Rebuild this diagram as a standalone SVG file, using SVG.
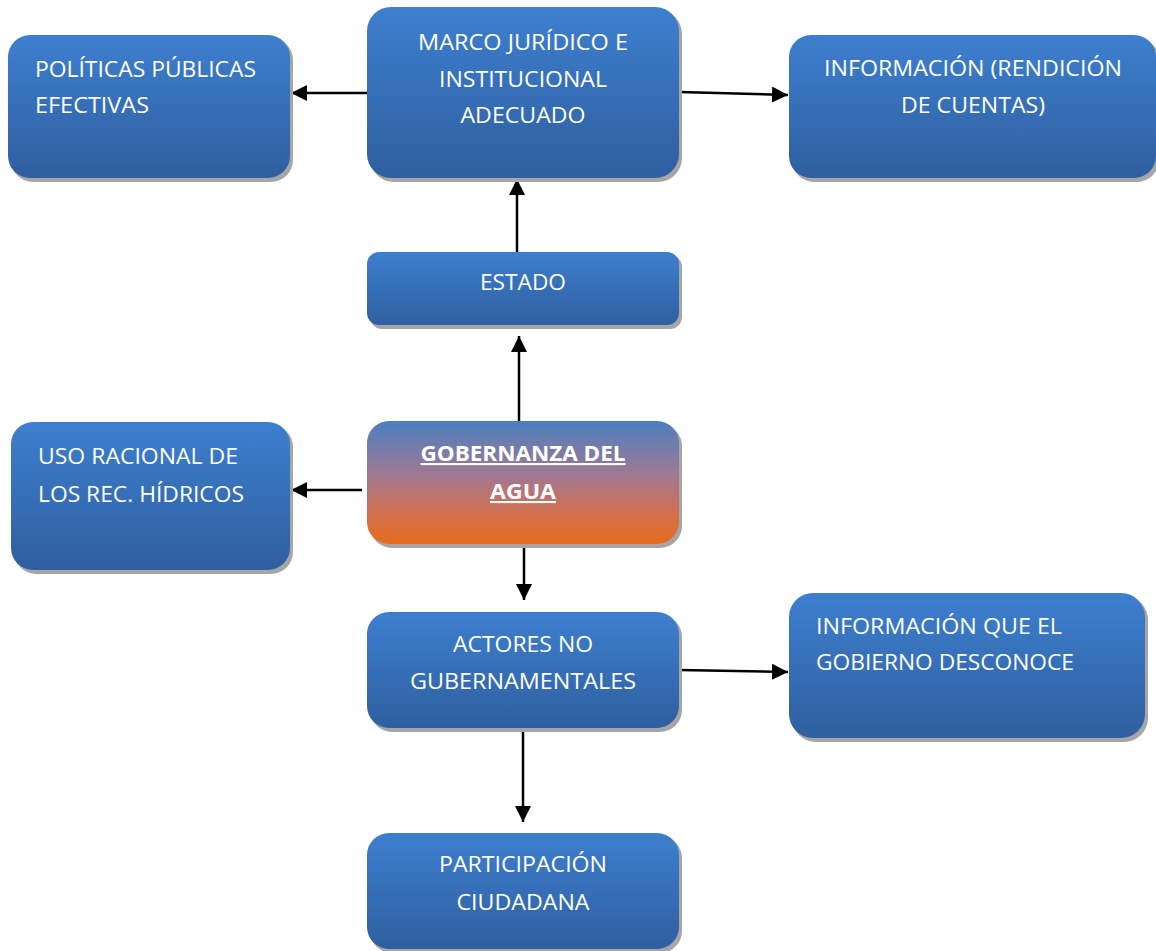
<svg xmlns="http://www.w3.org/2000/svg" width="1156" height="951" viewBox="0 0 1156 951">
<defs>
<linearGradient id="blue" x1="0" y1="0" x2="0" y2="1">
<stop offset="0" stop-color="#3d7fcf"/>
<stop offset="1" stop-color="#2f5f9f"/>
</linearGradient>
<linearGradient id="gob" x1="0" y1="0" x2="0" y2="1">
<stop offset="0" stop-color="#4a80c0"/>
<stop offset="0.45" stop-color="#a27890"/>
<stop offset="0.75" stop-color="#d2704f"/>
<stop offset="1" stop-color="#e56c1c"/>
</linearGradient>
<marker id="ah" viewBox="0 0 10 10" refX="10" refY="5" markerWidth="16" markerHeight="16" markerUnits="userSpaceOnUse" orient="auto">
<path d="M0,0 L10,5 L0,10 z" fill="#000"/>
</marker>
</defs>
<style>
.sh{fill:#a6a6a6}
.bx{fill:url(#blue)}
.t{font-family:"Open Sans","Noto Sans",sans-serif;font-size:21px;fill:#fff}
.c{text-anchor:middle}
.b{font-weight:bold;text-decoration:underline}
.ln{stroke:#000;stroke-width:2.5;fill:none;marker-end:url(#ah)}
</style>
<rect width="1156" height="951" fill="#fff"/>
<g id="connectors">
<line class="ln" x1="367" y1="93" x2="291" y2="93"/>
<line class="ln" x1="679" y1="92" x2="788" y2="95"/>
<line class="ln" x1="517" y1="252" x2="517" y2="179"/>
<line class="ln" x1="519" y1="421" x2="519" y2="336"/>
<line class="ln" x1="362" y1="490" x2="291" y2="490"/>
<line class="ln" x1="524" y1="544" x2="524" y2="600"/>
<line class="ln" x1="679" y1="670" x2="788" y2="672"/>
<line class="ln" x1="523" y1="728" x2="523" y2="822"/>
</g>
<g id="n-politicas">
<rect class="sh" x="11" y="38" width="282" height="144" rx="22"/>
<rect class="bx" x="8" y="35" width="282" height="143" rx="22"/>
<text class="t" x="35" y="77" textLength="221" lengthAdjust="spacingAndGlyphs">POLÍTICAS PÚBLICAS</text>
<text class="t" x="35" y="113" textLength="114" lengthAdjust="spacingAndGlyphs">EFECTIVAS</text>
</g>
<g id="n-marco">
<rect class="sh" x="370" y="10" width="312" height="172" rx="24"/>
<rect class="bx" x="367" y="7" width="312" height="171" rx="24"/>
<text class="t c" x="523" y="50" textLength="210" lengthAdjust="spacingAndGlyphs">MARCO JURÍDICO E</text>
<text class="t c" x="523" y="87" textLength="168" lengthAdjust="spacingAndGlyphs">INSTITUCIONAL</text>
<text class="t c" x="523" y="123" textLength="125" lengthAdjust="spacingAndGlyphs">ADECUADO</text>
</g>
<g id="n-info-rendicion">
<rect class="sh" x="792" y="38" width="367" height="144" rx="22"/>
<rect class="bx" x="789" y="35" width="367" height="143" rx="22"/>
<text class="t c" x="973" y="76" textLength="298" lengthAdjust="spacingAndGlyphs">INFORMACIÓN (RENDICIÓN</text>
<text class="t c" x="973" y="113" textLength="144" lengthAdjust="spacingAndGlyphs">DE CUENTAS)</text>
</g>
<g id="n-estado">
<rect class="sh" x="370" y="255" width="312" height="74" rx="12"/>
<rect class="bx" x="367" y="252" width="312" height="73" rx="12"/>
<text class="t c" x="523" y="290" textLength="86" lengthAdjust="spacingAndGlyphs">ESTADO</text>
</g>
<g id="n-gobernanza">
<rect class="sh" x="370" y="424" width="312" height="124" rx="22"/>
<rect x="367" y="421" width="312" height="123" rx="22" fill="url(#gob)"/>
<text class="t c b" x="523" y="461" textLength="205" lengthAdjust="spacingAndGlyphs">GOBERNANZA DEL</text>
<text class="t c b" x="523" y="499" textLength="66" lengthAdjust="spacingAndGlyphs">AGUA</text>
</g>
<g id="n-uso">
<rect class="sh" x="14" y="425" width="279" height="149" rx="22"/>
<rect class="bx" x="11" y="422" width="279" height="148" rx="22"/>
<text class="t" x="38" y="464" textLength="200" lengthAdjust="spacingAndGlyphs">USO RACIONAL DE</text>
<text class="t" x="38" y="502" textLength="206" lengthAdjust="spacingAndGlyphs">LOS REC. HÍDRICOS</text>
</g>
<g id="n-actores">
<rect class="sh" x="370" y="615" width="312" height="117" rx="22"/>
<rect class="bx" x="367" y="612" width="312" height="116" rx="22"/>
<text class="t c" x="523" y="652" textLength="140" lengthAdjust="spacingAndGlyphs">ACTORES NO</text>
<text class="t c" x="523" y="689" textLength="226" lengthAdjust="spacingAndGlyphs">GUBERNAMENTALES</text>
</g>
<g id="n-info-gobierno">
<rect class="sh" x="792" y="596" width="356" height="146" rx="24"/>
<rect class="bx" x="789" y="593" width="356" height="145" rx="24"/>
<text class="t" x="816" y="634" textLength="246" lengthAdjust="spacingAndGlyphs">INFORMACIÓN QUE EL</text>
<text class="t" x="816" y="670" textLength="258" lengthAdjust="spacingAndGlyphs">GOBIERNO DESCONOCE</text>
</g>
<g id="n-participacion">
<rect class="sh" x="370" y="836" width="312" height="117" rx="22"/>
<rect class="bx" x="367" y="833" width="312" height="116" rx="22"/>
<text class="t c" x="523" y="872" textLength="168" lengthAdjust="spacingAndGlyphs">PARTICIPACIÓN</text>
<text class="t c" x="523" y="910" textLength="133" lengthAdjust="spacingAndGlyphs">CIUDADANA</text>
</g>
</svg>
